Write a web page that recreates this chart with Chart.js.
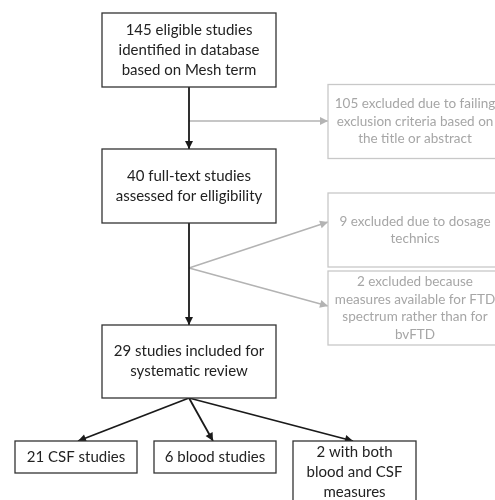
<!DOCTYPE html>
<html>
<head>
<meta charset="utf-8">
<script src="https://cdn.jsdelivr.net/npm/chart.js@4.4.1/dist/chart.umd.min.js"></script>
<style>
  html, body { margin: 0; padding: 0; background: #fff; }
  #wrap { width: 495px; height: 500px; }
</style>
</head>
<body>
<div id="wrap"><canvas id="flow" width="495" height="500"></canvas></div>
<script>
// flow boxes: text lines + center (in diagram units, y grows downward)
const boxLabels = [
  ['145 eligible studies', 'identified in database', 'based on Mesh term'],
  ['105 excluded due to failing', 'exclusion criteria based on', 'the title or abstract'],
  ['40 full-text studies', 'assessed for elligibility'],
  ['9 excluded due to dosage', 'technics'],
  ['2 excluded because', 'measures available for FTD', 'spectrum rather than for', 'bvFTD'],
  ['29 studies included for', 'systematic review'],
  ['21 CSF studies'],
  ['6 blood studies'],
  ['2 with both', 'blood and CSF', 'measures']
];
const boxCx = [189, 415, 189, 415, 415, 189, 76, 215, 354.5];
const boxCy = [50, 121.5, 186, 230, 308, 361.5, 457, 457, 476];
const boxKind = ['main', 'excl', 'main', 'excl', 'excl', 'main', 'main', 'main', 'main'];

// links: start and end points, arrow at the end
const linkStart = [[189, 87], [189, 121], [189, 223], [189, 268], [189, 268], [189, 398], [189, 398], [189, 398]];
const linkEnd   = [[189, 149], [328, 121], [189, 325], [328, 222], [328, 306], [78, 441], [213, 441], [353, 441]];
const linkKind  = ['main', 'excl', 'main', 'excl', 'excl', 'main', 'main', 'main'];

const boxSize = {
  main: [[174, 74], [174, 74], [174, 74], [174, 74], [174, 74], [174, 73], [122, 32], [122, 32], [123, 70]]
};
const colors = { main: '#1a1a1a', excl: '#b3b3b3' };
const textColors = { main: '#222', excl: '#a6a6a6' };

const datasets = linkStart.map((s, i) => ({
  type: 'line',
  data: [{ x: s[0], y: s[1] }, { x: linkEnd[i][0], y: linkEnd[i][1] }],
  borderColor: colors[linkKind[i]],
  borderWidth: linkKind[i] === 'main' ? 1.8 : 1.5,
  pointRadius: 0,
  fill: false
}));

const flowPlugin = {
  id: 'flow',
  afterDatasetsDraw(chart) {
    const { ctx, scales: { x, y } } = chart;
    ctx.save();
    // arrow heads
    linkStart.forEach((s, i) => {
      const x1 = x.getPixelForValue(s[0]), y1 = y.getPixelForValue(s[1]);
      const x2 = x.getPixelForValue(linkEnd[i][0]), y2 = y.getPixelForValue(linkEnd[i][1]);
      const a = Math.atan2(y2 - y1, x2 - x1);
      const len = 8, half = 4;
      ctx.fillStyle = colors[linkKind[i]];
      ctx.beginPath();
      ctx.moveTo(x2, y2);
      ctx.lineTo(x2 - len * Math.cos(a) + half * Math.sin(a), y2 - len * Math.sin(a) - half * Math.cos(a));
      ctx.lineTo(x2 - len * Math.cos(a) - half * Math.sin(a), y2 - len * Math.sin(a) + half * Math.cos(a));
      ctx.closePath();
      ctx.fill();
    });
    // boxes and their text
    boxLabels.forEach((lines, i) => {
      const kind = boxKind[i];
      const [w, h] = boxSize.main[i];
      const cx = x.getPixelForValue(boxCx[i]), cy = y.getPixelForValue(boxCy[i]);
      ctx.fillStyle = '#fff';
      ctx.fillRect(cx - w / 2, cy - h / 2, w, h);
      ctx.strokeStyle = kind === 'main' ? '#333' : '#c8c8c8';
      ctx.lineWidth = 1.3;
      ctx.strokeRect(cx - w / 2, cy - h / 2, w, h);
      ctx.fillStyle = textColors[kind];
      ctx.font = kind === 'main' ? '15px Lato' : '13.5px Lato';
      ctx.textAlign = 'center';
      ctx.textBaseline = 'middle';
      const lh = kind === 'main' ? 20 : 17.5;
      let top = cy - (lines.length - 1) * lh / 2;
      if (i === 8) top = 452;
      lines.forEach((t, k) => ctx.fillText(t, cx, top + k * lh));
    });
    ctx.restore();
  }
};

new Chart(document.getElementById('flow'), {
  type: 'scatter',
  data: { datasets },
  options: {
    responsive: false,
    animation: false,
    layout: { padding: 0 },
    plugins: { legend: { display: false }, tooltip: { enabled: false } },
    scales: {
      x: { type: 'linear', min: 0, max: 495, display: false },
      y: { type: 'linear', min: 0, max: 500, reverse: true, display: false }
    }
  },
  plugins: [flowPlugin]
});
</script>
</body>
</html>
